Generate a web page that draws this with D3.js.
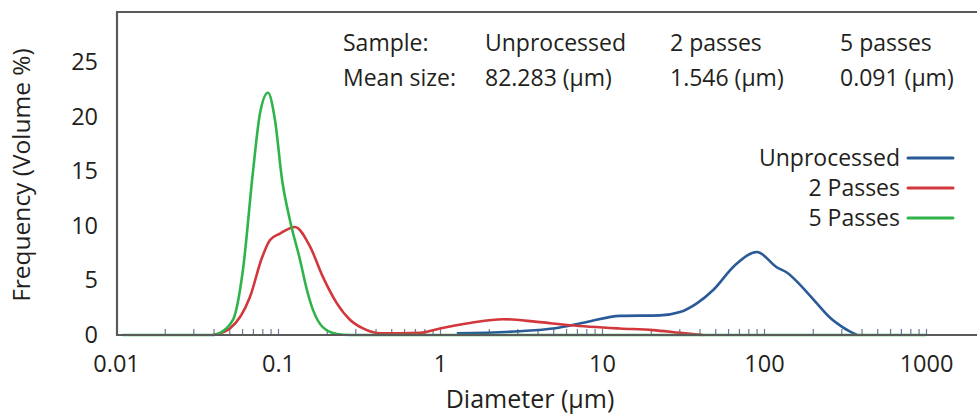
<!DOCTYPE html>
<html>
<head>
<meta charset="utf-8">
<script src="https://cdn.jsdelivr.net/npm/d3@7"></script>
<style>
  body { margin: 0; background: #fff; }
  svg text { font-family: "Open Sans", "Noto Sans", sans-serif; fill: #231f20; }
</style>
</head>
<body>
<div id="chart"></div>
<script>
// diameter (um) / frequency (volume %)
var unprocessedX = [1.27, 3.12, 4.99, 8.08, 12.9, 22.8, 30.3, 38.5, 48.4, 66.2, 90.6, 120, 139, 167, 212, 255, 307, 375];
var unprocessedY = [0.15, 0.35, 0.6, 1.2, 1.75, 1.8, 2.1, 2.9, 4.1, 6.4, 7.6, 6.2, 5.7, 4.6, 2.9, 1.6, 0.7, 0];

var pass2X = [0.0397, 0.0505, 0.0672, 0.0797, 0.0893, 0.1028, 0.1273, 0.1577, 0.1896, 0.231, 0.278, 0.335, 0.4265, 0.753, 1.0, 1.53, 2.45, 3.97, 6.34, 12.9, 20.6, 30.3, 42.0];
var pass2Y = [0, 0.6, 3.5, 7.1, 8.7, 9.3, 9.9, 8.1, 5.3, 2.9, 1.4, 0.6, 0.15, 0.2, 0.6, 1.1, 1.45, 1.2, 0.9, 0.6, 0.45, 0.2, 0];

var pass5X = [0.011, 0.0397, 0.0426, 0.0528, 0.0608, 0.0701, 0.0774, 0.0867, 0.0958, 0.106, 0.1186, 0.1367, 0.151, 0.1644, 0.1896, 0.231, 0.278, 1000];
var pass5Y = [0, 0, 0.1, 1.4, 6, 15, 20.3, 22.2, 19.7, 14.2, 10.5, 6.9, 4.1, 2.3, 0.7, 0.1, 0, 0];

var seriesNames = ["Unprocessed", "2 Passes", "5 Passes"];
var seriesColors = ["#2b5b97", "#d2373c", "#2fb44b"];

var xTicks = [0.01, 0.1, 1, 10, 100, 1000];
var xTickLabels = ["0.01", "0.1", "1", "10", "100", "1000"];
var yTicks = [0, 5, 10, 15, 20, 25];

var sampleRow = ["Sample:", "Unprocessed", "2 passes", "5 passes"];
var meanRow = ["Mean size:", "82.283 (\u00b5m)", "1.546 (\u00b5m)", "0.091 (\u00b5m)"];

var W = 977, H = 416;
var plotLeft = 117, plotTop = 12, plotBottom = 335;

var svg = d3.select("#chart").append("svg")
    .attr("width", W)
    .attr("height", H);

var x = d3.scaleLog()
    .domain([0.01, 1000])
    .range([116, 926]);

var y = d3.scaleLinear()
    .domain([0, 29.6])
    .range([plotBottom, plotTop]);

// minor ticks (inward)
var minor = [];
for (var p = -2; p < 3; p++) {
  for (var k = 2; k <= 10; k++) minor.push(k * Math.pow(10, p));
}
svg.append("g")
    .attr("transform", "translate(0," + plotBottom + ")")
    .call(d3.axisBottom(x).tickValues(minor).tickSizeInner(-6).tickSizeOuter(0).tickFormat(""))
    .call(function (g) { g.select(".domain").remove(); })
    .selectAll("line")
      .attr("stroke", "#6f7796")
      .attr("stroke-width", 1.2);

// x labels
svg.append("g")
    .attr("transform", "translate(0," + plotBottom + ")")
    .call(d3.axisBottom(x).tickValues(xTicks).tickSize(0).tickPadding(20)
      .tickFormat(function (d, i) { return xTickLabels[i]; }))
    .call(function (g) { g.select(".domain").remove(); })
    .selectAll("text")
      .style("font-size", "23.5px")
      .attr("fill", "#231f20");

// y labels
svg.append("g")
    .attr("transform", "translate(" + plotLeft + ",0)")
    .call(d3.axisLeft(y).tickValues(yTicks).tickSize(0).tickPadding(19))
    .call(function (g) { g.select(".domain").remove(); })
    .selectAll("text")
      .style("font-size", "23.5px")
      .attr("fill", "#231f20");

// curves
var line = d3.line()
    .x(function (d) { return x(d[0]); })
    .y(function (d) { return y(d[1]); })
    .curve(d3.curveMonotoneX);

var allSeries = [
  d3.zip(unprocessedX, unprocessedY),
  d3.zip(pass2X, pass2Y),
  d3.zip(pass5X, pass5Y)
];

svg.append("g")
  .selectAll("path")
  .data(allSeries)
  .enter()
  .append("path")
    .attr("d", line)
    .attr("fill", "none")
    .attr("stroke", function (d, i) { return seriesColors[i]; })
    .attr("stroke-width", 2.6)
    .attr("stroke-linejoin", "round");

// frame
svg.append("path")
    .attr("d", "M" + W + "," + plotTop + "H" + plotLeft + "V" + plotBottom + "H" + W)
    .attr("fill", "none")
    .attr("stroke", "#5a5a5a")
    .attr("stroke-width", 2.2);

// axis titles
svg.append("text")
    .attr("x", 530)
    .attr("y", 408)
    .attr("text-anchor", "middle")
    .style("font-size", "25px")
    .text("Diameter (\u00b5m)");

svg.append("text")
    .attr("transform", "translate(30,175) rotate(-90)")
    .attr("text-anchor", "middle")
    .style("font-size", "24.5px")
    .text("Frequency (Volume %)");

// sample table
var colX = [343, 485, 670, 840];
svg.append("g").selectAll("text")
  .data(sampleRow)
  .enter().append("text")
    .attr("x", function (d, i) { return colX[i]; })
    .attr("y", 51)
    .style("font-size", "23px")
    .text(function (d) { return d; });
svg.append("g").selectAll("text")
  .data(meanRow)
  .enter().append("text")
    .attr("x", function (d, i) { return colX[i]; })
    .attr("y", 86)
    .style("font-size", "23px")
    .text(function (d) { return d; });

// legend
var legend = svg.append("g").selectAll("g")
  .data(seriesNames)
  .enter().append("g")
    .attr("transform", function (d, i) { return "translate(0," + (158 + i * 30) + ")"; });
legend.append("text")
    .attr("x", 900)
    .attr("y", 8)
    .attr("text-anchor", "end")
    .style("font-size", "23px")
    .text(function (d) { return d; });
legend.append("line")
    .attr("x1", 908)
    .attr("x2", 953)
    .attr("stroke", function (d, i) { return seriesColors[i]; })
    .attr("stroke-width", 3)
    .attr("stroke-linecap", "round");
</script>
</body>
</html>
